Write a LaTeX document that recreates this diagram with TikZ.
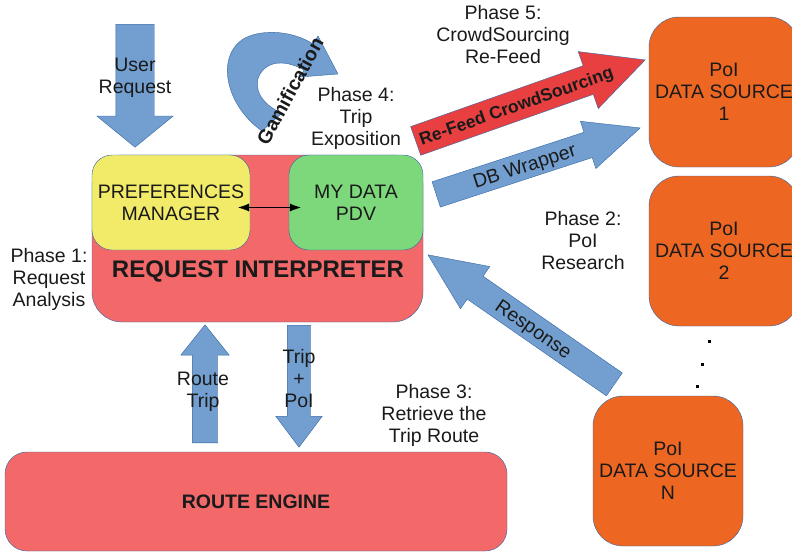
\documentclass[tikz,border=0pt]{standalone}
\usepackage{fontspec}
\setmainfont{Liberation Sans}
\usepackage{tikz}
\usetikzlibrary{shapes.arrows,arrows.meta,positioning}

\definecolor{linkblue}{RGB}{52,101,164}
\definecolor{arrowblue}{RGB}{114,159,207}
\definecolor{interpred}{RGB}{243,104,104}
\definecolor{feedred}{RGB}{232,64,64}
\definecolor{prefyellow}{RGB}{241,235,105}
\definecolor{pdvgreen}{RGB}{125,216,123}
\definecolor{srcorange}{RGB}{238,103,34}
\definecolor{inktext}{RGB}{26,26,26}

\newcommand{\diagfont}{\fontsize{19.5}{22}\selectfont}

\begin{document}
\begin{tikzpicture}[x=1pt,y=-1pt]
\tikzstyle{every node}=[text=inktext,font=\diagfont,align=center,inner sep=0pt]
\tikzstyle{box}=[draw=linkblue,thin,minimum width=150pt,minimum height=150pt]
\tikzstyle{blockarrow}=[single arrow,draw=linkblue,thin,fill=arrowblue,single arrow head indent=0pt]
\tikzstyle{phase}=[text=inktext]
\useasboundingbox (0,0) rectangle (792,557);

% request interpreter with its two modules
\node[box,fill=interpred,rounded corners=30pt,minimum width=331pt,minimum height=167pt] (interp) at (257.5,238.5) {};
\node[font=\bfseries\fontsize{24}{26}\selectfont] (interptitle) at (258,271) {REQUEST INTERPRETER};
\node[box,fill=prefyellow,rounded corners=20pt,minimum width=158pt,minimum height=95pt] (prefs) at (171,202.5) {PREFERENCES\\MANAGER};
\node[box,fill=pdvgreen,rounded corners=20pt,minimum width=134pt,minimum height=95pt] (mydata) at (356,202.5) {MY DATA\\PDV};
\draw[{Latex[length=11pt,width=8pt]}-{Latex[length=11pt,width=8pt]},thin] ([xshift=-12pt,yshift=-5pt]prefs.east) -- ([xshift=12pt,yshift=-5pt]mydata.west);

% route engine
\node[box,fill=interpred,rounded corners=22pt,minimum width=502pt,minimum height=99pt,font=\bfseries\diagfont] (engine) at (256,501.5) {ROUTE ENGINE};

% data sources
\node[box,fill=srcorange,rounded corners=30pt] (src1) at (724,92) {PoI\\DATA SOURCE\\1};
\node[box,fill=srcorange,rounded corners=30pt] (src2) at (724,251) {PoI\\DATA SOURCE\\2};
\node[box,fill=srcorange,rounded corners=30pt] (srcN) at (668,471) {PoI\\DATA SOURCE\\N};
\foreach \p in {(709,341),(702,364),(697,386)}
  \fill[black] \p +(-1.5,-1.5) rectangle +(1.5,1.5);

% block arrows
\node[blockarrow,rotate=-90,anchor=tail,inner ysep=19pt,minimum height=123pt,single arrow head extend=19pt,single arrow tip angle=101.6] (userreq) at (135,24) {};
\node (userreqtext) at (135,78) {User\\Request};
\node[blockarrow,rotate=90,anchor=tail,inner ysep=12.5pt,minimum height=118pt,single arrow head extend=11.5pt,single arrow tip angle=77.3] (routetrip) at (205,443) {};
\node (routetriptext) at (203,392) {Route\\Trip};
\node[blockarrow,rotate=-90,anchor=tail,inner ysep=11.5pt,minimum height=122pt,single arrow head extend=11.5pt,single arrow tip angle=73.7] (trippoi) at (299,325) {};
\node (trippoitext) at (299,379) {Trip\\+\\PoI};
\node[blockarrow,rotate=18.05,anchor=tail,text height=20.1pt,text depth=6.1pt,minimum height=214.6pt,single arrow head extend=11.55pt,single arrow tip angle=48.8] (dbwrap) at (436,194.5) {DB Wrapper};
\node[blockarrow,fill=feedred,rotate=19.44,anchor=tail,text height=21.25pt,text depth=8.75pt,minimum height=243.4pt,single arrow head extend=15pt,single arrow tip angle=53.1,font=\bfseries\fontsize{17.5}{20}\selectfont] (refeed) at (415.5,141) {Re-Feed CrowdSourcing};
\node[blockarrow,rotate=-34.8,shape border rotate=180,anchor=tail,text height=20.75pt,text depth=6.75pt,minimum height=227pt,single arrow head extend=11.75pt,single arrow tip angle=48.2] (response) at (614.5,384.5) {Response};

% gamification loop
\filldraw[draw=linkblue,thin,fill=arrowblue] (262,131) .. controls (225,105) and (215,55) .. (245,38) .. controls (265,28) and (295,32) .. (313,44) -- (318,36) -- (338,74) -- (300,77) -- (304,70) .. controls (290,62) and (270,58) .. (260,74) .. controls (252,88) and (262,105) .. (282,113) -- cycle;
\node[font=\bfseries\diagfont,rotate=61.5] (gamilabel) at (290,91) {Gamification};

% phases
\node[phase] (phase1) at (49,279) {Phase 1:\\Request\\Analysis};
\node[phase] (phase2) at (583,241) {Phase 2:\\PoI\\Research};
\node[phase] (phase3) at (434,415) {Phase 3:\\Retrieve the\\Trip Route};
\node[phase] (phase4) at (356,118) {Phase 4:\\Trip\\Exposition};
\node[phase] (phase5) at (503,35) {Phase 5:\\CrowdSourcing\\Re-Feed};
\end{tikzpicture}
\end{document}
